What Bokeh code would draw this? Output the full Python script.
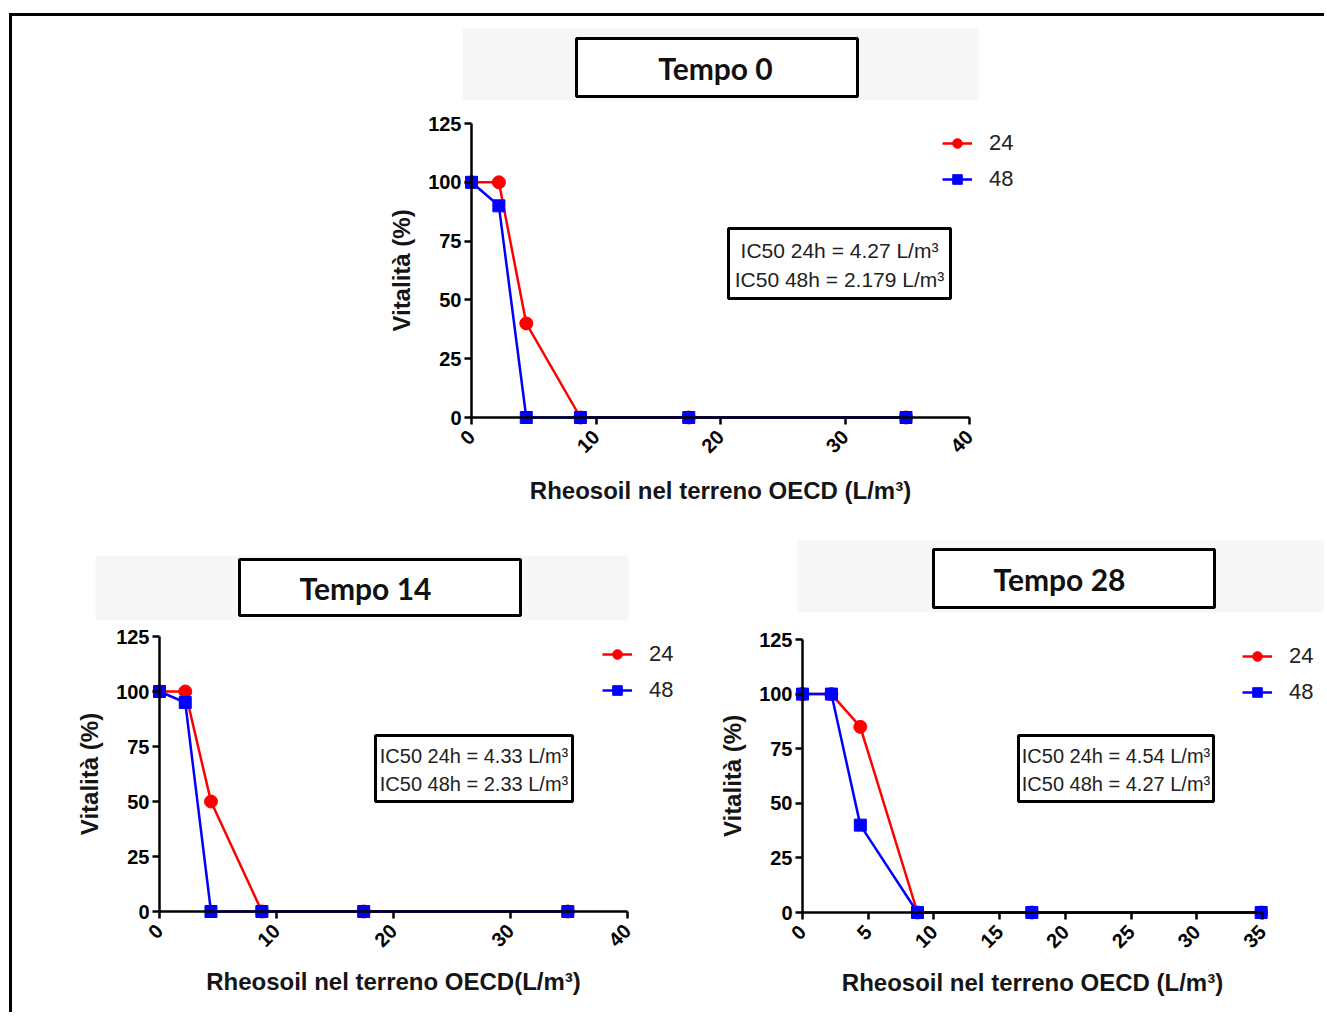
from bokeh.plotting import figure
from bokeh.models import Range1d, FixedTicker, Label, Legend, LegendItem, Spacer, BoxAnnotation
from bokeh.layouts import column, row
from bokeh.embed import file_html
from bokeh.resources import INLINE
from math import pi

# ---------------- data ----------------
conc = [0, 2.2, 4.4, 8.75, 17.45, 34.9]
t0_24 = [100, 100, 40, 0, 0, 0]
t0_48 = [100, 90, 0, 0, 0, 0]
t14_24 = [100, 100, 50, 0, 0, 0]
t14_48 = [100, 95, 0, 0, 0, 0]
t28_24 = [100, 100, 85, 0, 0, 0]
t28_48 = [100, 100, 40, 0, 0, 0]
series_names = ["24", "48"]
y_ticks = [0, 25, 50, 75, 100, 125]
x_ticks_40 = [0, 10, 20, 30, 40]
x_ticks_35 = [0, 5, 10, 15, 20, 25, 30, 35]
titles = ["Tempo 0", "Tempo 14", "Tempo 28"]
ic50_t0 = ["IC50 24h = 4.27 L/m³", "IC50 48h = 2.179 L/m³"]
ic50_t14 = ["IC50 24h = 4.33 L/m³", "IC50 48h = 2.33 L/m³"]
ic50_t28 = ["IC50 24h = 4.54 L/m³", "IC50 48h = 4.27 L/m³"]
xlab_a = "Rheosoil nel terreno OECD (L/m³)"
xlab_b = "Rheosoil nel terreno OECD(L/m³)"
ylab = "Vitalità (%)"

RED = "#FF0000"
BLUE = "#0000FF"
FONT = "Liberation Sans"


def make_panel(title, v24, v48, xmax, xticks, ic_lines, ic_size, xlabel,
               fig_box, axis_box, gray_box, title_box, title_x,
               ic_box, ic_y, legend_x, legend_top, xlab_standoff):
    fl, ft, fr, fb = fig_box          # page pixels of this figure
    al, ar, at, ab = axis_box         # page pixels of x=0, x=xmax, y=125, y=0
    sx = (ar - al) / xmax
    sy = (ab - at) / 125.0

    def dx(px):
        return (px - al) / sx

    def dy(py):
        return (ab - py) / sy

    p = figure(width=fr - fl, height=fb - ft,
               x_range=Range1d(dx(fl), dx(fr)), y_range=Range1d(dy(fb), dy(ft)),
               min_border=0, output_backend="svg", toolbar_location=None,
               background_fill_color="white", border_fill_color="white")
    p.outline_line_color = None
    p.grid.visible = False

    # faint grey band behind the title box
    p.add_layout(BoxAnnotation(left=dx(gray_box[0]), right=dx(gray_box[2]),
                               top=dy(gray_box[1]), bottom=dy(gray_box[3]),
                               fill_color="#f7f7f7", fill_alpha=1, line_color=None,
                               level="underlay"))

    for ax in (p.xaxis[0], p.yaxis[0]):
        ax.axis_line_width = 2.5
        ax.axis_line_color = "black"
        ax.major_tick_line_width = 2.5
        ax.major_tick_line_color = "black"
        ax.major_tick_out = 7
        ax.major_tick_in = 0
        ax.minor_tick_line_color = None
        ax.major_label_text_font = FONT
        ax.major_label_text_font_style = "bold"
        ax.major_label_text_font_size = "20px"
        ax.major_label_text_color = "black"
        ax.axis_label_text_font = FONT
        ax.axis_label_text_font_style = "bold"
        ax.axis_label_text_font_size = "24px"
        ax.axis_label_text_color = "#151515"
    p.xaxis.ticker = FixedTicker(ticks=xticks)
    p.yaxis.ticker = FixedTicker(ticks=y_ticks)
    p.xaxis.bounds = (0, xmax)
    p.yaxis.bounds = (0, 125)
    p.xaxis.fixed_location = 0
    p.yaxis.fixed_location = 0
    p.xaxis.major_label_orientation = pi / 4
    p.xaxis.major_label_standoff = 9
    p.yaxis.major_label_standoff = 3
    p.xaxis.axis_label = xlabel
    p.yaxis.axis_label = ylab
    p.xaxis.axis_label_standoff = xlab_standoff
    p.yaxis.axis_label_standoff = 10

    l24 = p.line(conc, v24, line_color=RED, line_width=2.5)
    m24 = p.scatter(conc, v24, marker="circle", size=13, fill_color=RED, line_color=RED)
    l48 = p.line(conc, v48, line_color=BLUE, line_width=2.5)
    m48 = p.scatter(conc, v48, marker="square", size=12, fill_color=BLUE, line_color=BLUE)

    # legend: tuple location = bottom-left corner, px from frame bottom-left
    leg_h = 24 * 2 + 10
    legend = Legend(items=[LegendItem(label=series_names[0], renderers=[l24, m24]),
                           LegendItem(label=series_names[1], renderers=[l48, m48])],
                    location=(legend_x - fl, fb - (legend_top + leg_h)),
                    border_line_color=None, background_fill_alpha=0,
                    padding=0, margin=0, spacing=10,
                    glyph_width=30, glyph_height=24, label_height=24,
                    label_standoff=17, label_text_font=FONT,
                    label_text_font_size="22px", label_text_color="#222222")
    p.add_layout(legend)

    # title box
    p.add_layout(BoxAnnotation(left=dx(title_box[0]), right=dx(title_box[2]),
                               top=dy(title_box[1]), bottom=dy(title_box[3]),
                               fill_color="white", fill_alpha=1,
                               line_color="black", line_alpha=1, line_width=3))
    p.add_layout(Label(x=dx(title_x), y=dy((title_box[1] + title_box[3]) / 2), text=title,
                       text_font="Lato", text_font_style="bold", text_font_size="30px",
                       text_color="#111111", text_align="center", text_baseline="middle"))

    # IC50 box
    p.add_layout(BoxAnnotation(left=dx(ic_box[0]), right=dx(ic_box[2]),
                               top=dy(ic_box[1]), bottom=dy(ic_box[3]),
                               fill_color="white", fill_alpha=1,
                               line_color="black", line_alpha=1, line_width=3))
    cx = (ic_box[0] + ic_box[2]) / 2
    for txt, yy in zip(ic_lines, ic_y):
        p.add_layout(Label(x=dx(cx), y=dy(yy), text=txt, text_font=FONT,
                           text_font_size=ic_size, text_color="#222222",
                           text_align="center", text_baseline="middle"))
    return p


p0 = make_panel(titles[0], t0_24, t0_48, 40, x_ticks_40, ic50_t0, "21px", xlab_a,
                fig_box=(360, 16, 1020, 530), axis_box=(471, 969, 123, 417),
                gray_box=(462, 28, 978, 100), title_box=(576, 38, 857, 96), title_x=715,
                ic_box=(728, 228, 950, 298), ic_y=(250, 279),
                legend_x=942, legend_top=134, xlab_standoff=15)
p14 = make_panel(titles[1], t14_24, t14_48, 40, x_ticks_40, ic50_t14, "20px", xlab_b,
                 fig_box=(12, 530, 690, 1012), axis_box=(159, 627, 636, 911),
                 gray_box=(95, 555, 628, 620), title_box=(239, 559, 520, 615), title_x=365,
                 ic_box=(375, 735, 572, 801), ic_y=(755, 783),
                 legend_x=602, legend_top=645, xlab_standoff=12)
p28 = make_panel(titles[2], t28_24, t28_48, 35, x_ticks_35, ic50_t28, "20px", xlab_a,
                 fig_box=(690, 530, 1324, 1012), axis_box=(802, 1262, 639, 912),
                 gray_box=(797, 540, 1324, 612), title_box=(933, 549, 1214, 607), title_x=1059,
                 ic_box=(1018, 735, 1213, 801), ic_y=(755, 783),
                 legend_x=1242, legend_top=647, xlab_standoff=12)

layout = column(
    row(Spacer(width=348, height=514), p0, spacing=0),
    row(p14, p28, spacing=0),
    spacing=0,
    styles={"margin-top": "13px", "margin-left": "9px",
            "border-top": "3px solid #000", "border-left": "3px solid #000"},
)

open("out.html", "w").write(file_html(layout, INLINE))
